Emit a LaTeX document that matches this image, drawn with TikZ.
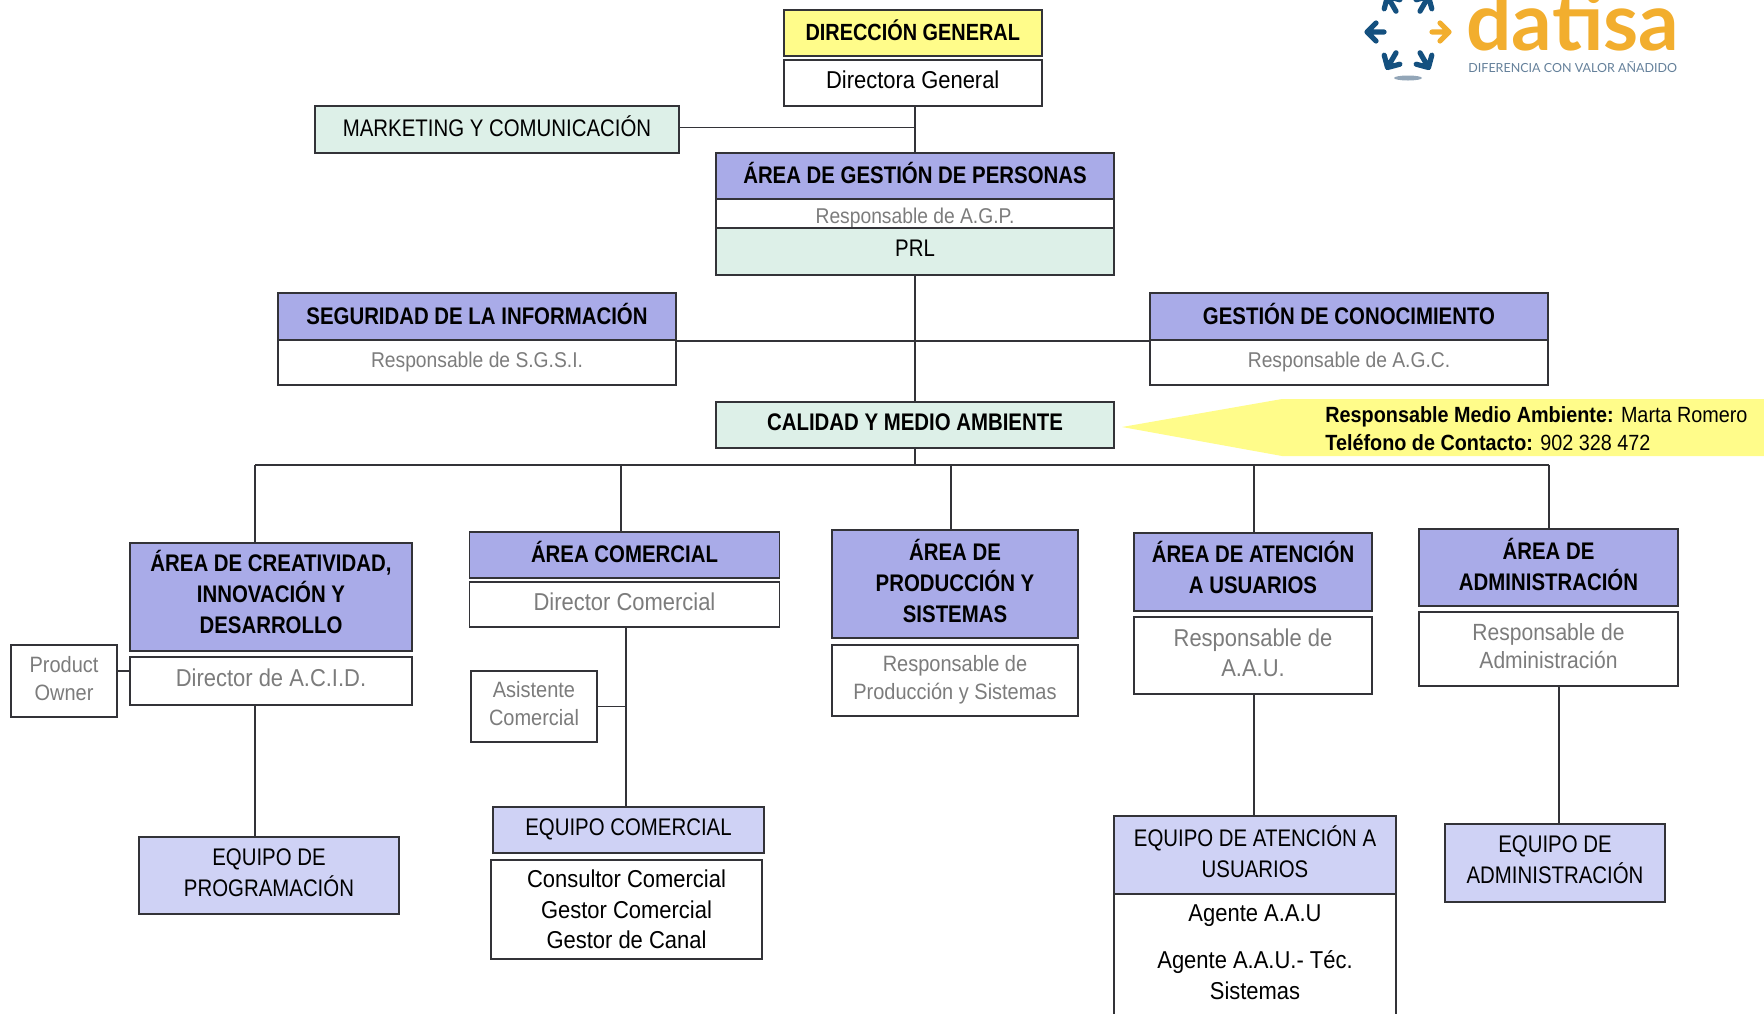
\documentclass[tikz,border=0pt]{standalone}
\usepackage{fontspec}
\setmainfont[FakeStretch=0.9]{Liberation Sans}
\newfontfamily\capsfont[FakeStretch=0.85]{Liberation Sans}
\newfontfamily\logofont{Lato}
\definecolor{linegray}{HTML}{333338}
\definecolor{headpurple}{HTML}{A9ABE8}
\definecolor{teampurple}{HTML}{CFD2F5}
\definecolor{mint}{HTML}{DDF0E8}
\definecolor{noteyellow}{HTML}{FFFC8A}
\definecolor{softtext}{HTML}{7C7C7C}
\definecolor{logoblue}{HTML}{14507F}
\definecolor{logoorange}{HTML}{F2AE2E}
\definecolor{logogray}{HTML}{64809A}

\begin{document}
\begin{tikzpicture}[x=0.5pt,y=-0.5pt,
  size/.style 2 args={minimum width=#1*0.5pt,minimum height=#2*0.5pt},
  orgbox/.style={draw=linegray,line width=0.85pt,inner sep=0pt,align=center,text depth=3pt,
    font=\fontsize{12.2}{15.3}\selectfont},
  capsbox/.style={orgbox,font=\capsfont\fontsize{12}{15.5}\selectfont},
  head/.style={capsbox,fill=headpurple,font=\capsfont\fontsize{12}{15.5}\selectfont\bfseries},
  team/.style={capsbox,fill=teampurple},
  plain/.style={orgbox,fill=white},
  soft/.style={plain,text=softtext},
  minty/.style={capsbox,fill=mint},
  link/.style={draw=linegray,line width=0.85pt},
  tinysoft/.style={soft,font=\fontsize{11.1}{14}\selectfont},
  narrowsoft/.style={soft,font=\fontsize{10.7}{14}\selectfont}]
  \useasboundingbox (0,0) rectangle (1764,1013);
  % top of the chart
  \node[head,fill=noteyellow,font=\capsfont\fontsize{11.7}{15.5}\selectfont\bfseries,size={258}{46}] (dirhead) at (912.75,33) {DIRECCIÓN GENERAL};
  \node[plain,size={258}{46}] (dirname) at (912.75,83) {Directora General};
  \node[minty,size={364}{47}] (mkt) at (497,129.5) {MARKETING Y COMUNICACIÓN};
  \node[head,size={398}{46}] (agphead) at (915,176) {ÁREA DE GESTIÓN DE PERSONAS};
  \node[narrowsoft,size={398}{29}] (agpname) at (915,213.5) {\raisebox{-5pt}{Responsable de A.G.P.}};
  \node[minty,size={398}{47}] (prl) at (915,251.5) {PRL};
  \node[head,size={398}{47}] (seghead) at (477,316.5) {SEGURIDAD DE LA INFORMACIÓN};
  \node[narrowsoft,size={398}{45}] (segname) at (477,362.5) {Responsable de S.G.S.I.};
  \node[head,size={398}{47}] (geshead) at (1349,316.5) {GESTIÓN DE CONOCIMIENTO};
  \node[narrowsoft,size={398}{45}] (gesname) at (1349,362.5) {Responsable de A.G.C.};
  \node[minty,font=\capsfont\fontsize{12}{15.5}\selectfont\bfseries,size={398}{46}] (cal) at (915,425) {CALIDAD Y MEDIO AMBIENTE};
  % note beside calidad
  \fill[noteyellow] (1122,427) -- (1282,399) -- (1764,399) -- (1764,456) -- (1282,456) -- cycle;
  \node[anchor=west,align=left,inner sep=0pt,font=\fontsize{11}{14}\selectfont] (note) at (1325,429)
    {\textbf{Responsable Medio Ambiente:} Marta Romero\\\textbf{Teléfono de Contacto:} 902 328 472};
  % areas
  \node[head,text depth=5pt,size={282}{108}] (crehead) at (271,597) {ÁREA DE CREATIVIDAD,\\INNOVACIÓN Y\\DESARROLLO};
  \node[soft,size={282}{48}] (crename) at (271,681) {Director de A.C.I.D.};
  \node[tinysoft,size={106}{72}] (owner) at (64,681) {Product\\Owner};
  \node[team,size={260}{77}] (eqprog) at (269,875.5) {EQUIPO DE\\PROGRAMACIÓN};
  \node[head,size={310}{46}] (comhead) at (624.5,555) {ÁREA COMERCIAL};
  \node[soft,size={310}{45}] (comname) at (624.5,604.5) {Director Comercial};
  \node[tinysoft,size={126}{71}] (asis) at (534,706.5) {Asistente\\Comercial};
  \node[team,size={271}{46}] (eqcom) at (628.5,830) {EQUIPO COMERCIAL};
  \node[plain,text depth=0pt,size={271}{99}] (consul) at (626.5,909.5) {Consultor Comercial\\Gestor Comercial\\Gestor de Canal};
  \node[head,size={246}{108}] (prodhead) at (955,584) {ÁREA DE\\PRODUCCIÓN Y\\SISTEMAS};
  \node[tinysoft,size={246}{71}] (prodname) at (955,680.5) {Responsable de\\Producción y Sistemas};
  \node[head,text depth=5pt,size={238}{78}] (aauhead) at (1253,572) {ÁREA DE ATENCIÓN\\A USUARIOS};
  \node[soft,size={238}{77}] (aauname) at (1253,655.5) {Responsable de\\A.A.U.};
  \node[team,size={282}{78}] (eqaau) at (1255,855) {EQUIPO DE ATENCIÓN A\\USUARIOS};
  \node[plain,size={282}{122}] (agents) at (1255,955) {Agente A.A.U\\[8pt]Agente A.A.U.- Téc.\\Sistemas};
  \node[head,size={259}{77}] (admhead) at (1548.5,567.5) {ÁREA DE\\ADMINISTRACIÓN};
  \node[soft,font=\fontsize{11.7}{14}\selectfont,size={259}{74}] (admname) at (1548.5,649) {Responsable de\\Administración};
  \node[team,size={220}{78}] (eqadm) at (1555,863) {EQUIPO DE\\ADMINISTRACIÓN};
  % connectors
  \coordinate (busA) at (255,465);
  \coordinate (busB) at (621,465);
  \coordinate (busC) at (951,465);
  \coordinate (busD) at (1254,465);
  \coordinate (busE) at (1549,465);
  \coordinate (comdown) at (626,627);
  \coordinate (admdown) at (1559,686);
  \draw[link] (dirname.south -| agphead.north) -- (agphead.north);
  \draw[link] ([yshift=1pt]mkt.east) -- ([yshift=1pt]mkt.east -| agphead.north);
  \draw[link] (prl.south) -- (cal.north);
  \draw[link] (seghead.south east) -- (geshead.south west);
  \draw[link] (cal.south) -- (cal.south |- busA);
  \draw[link] (busA) -- (busE);
  \foreach \bus/\area in {busA/crehead,busB/comhead,busC/prodhead,busD/aauhead,busE/admhead}
    \draw[link] (\bus) -- (\bus |- \area.north);
  \draw[link] ([yshift=5pt]owner.east) -- ([yshift=5pt]owner.east -| crename.west);
  \draw[link] (busA |- crename.south) -- (busA |- eqprog.north);
  \draw[link] (comdown) -- (comdown |- eqcom.north);
  \draw[link] (asis.east) -- (asis.east -| comdown);
  \draw[link] (busD |- aauname.south) -- (busD |- eqaau.north);
  \draw[link] (admdown) -- (admdown |- eqadm.north);
  % logo
  \foreach \ang/\col in {0/logoorange,60/logoblue,120/logoblue,180/logoblue,240/logoblue,300/logoblue}
    \draw[\col,line width=2.6pt,line cap=round,line join=round,shift={(1408,32)},rotate=-\ang]
      (32,-9) -- (41,0) -- (32,9) (41,0) -- (24,0);
  \fill[logogray!70] (1408,78) ellipse [x radius=14,y radius=2.5];
  \node[anchor=base west,inner sep=0pt,text=logoorange,font=\logofont\fontsize{40}{40}\selectfont\bfseries] (logoname) at (1466,50) {datisa};
  \node[anchor=base west,inner sep=0pt,text=logogray,font=\logofont\fontsize{6.25}{8}\selectfont] (logotag) at (1468,72) {DIFERENCIA CON VALOR AÑADIDO};
\end{tikzpicture}
\end{document}
